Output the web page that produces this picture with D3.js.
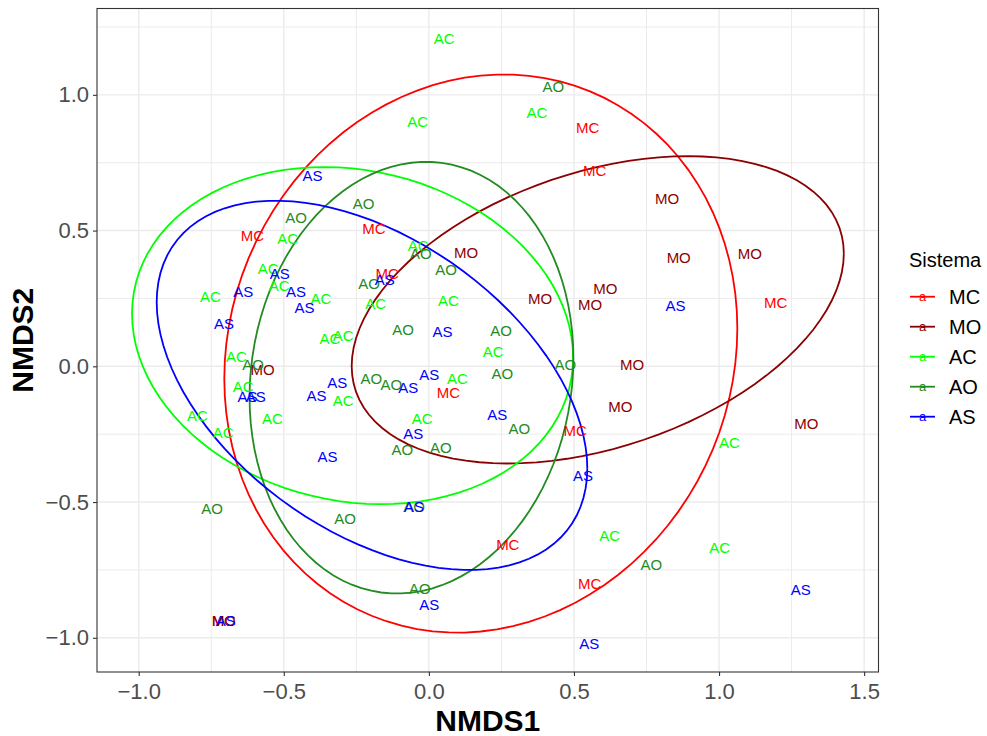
<!DOCTYPE html>
<html>
<head>
<meta charset="utf-8">
<script src="https://cdn.jsdelivr.net/npm/d3@7"></script>
<style>
  html, body { margin: 0; padding: 0; background: #fff; }
  svg { display: block; font-family: "Liberation Sans", Arial, Helvetica, sans-serif; }
</style>
</head>
<body>
<svg id="chart" width="987" height="736"></svg>
<script>
// ---------------- data ----------------
const categories = ["MC", "MO", "AC", "AO", "AS"];

const pointsMC = [
  [-0.608, 0.480], [0.547, 0.881], [0.571, 0.721], [-0.189, 0.507], [-0.144, 0.342],
  [1.195, 0.234], [0.067, -0.095], [0.504, -0.236], [0.272, -0.658], [0.554, -0.800],
  [-0.707, -0.937]
];
const pointsMO = [
  [0.821, 0.616], [0.128, 0.419], [0.383, 0.250], [0.608, 0.287], [0.556, 0.229],
  [0.861, 0.401], [1.106, 0.416], [0.700, 0.006], [0.660, -0.148], [1.301, -0.212],
  [-0.573, -0.012], [-0.707, -0.937]
];
const pointsAC = [
  [0.053, 1.207], [-0.039, 0.903], [0.372, 0.936], [-0.487, 0.472], [-0.554, 0.360],
  [-0.516, 0.299], [-0.372, 0.250], [-0.753, 0.256], [-0.341, 0.102], [-0.295, 0.112],
  [-0.663, 0.037], [-0.640, -0.076], [-0.798, -0.181], [-0.709, -0.245], [-0.539, -0.193],
  [-0.295, -0.125], [-0.037, 0.443], [-0.183, 0.231], [0.067, 0.241], [0.222, 0.056],
  [0.098, -0.046], [-0.023, -0.191], [0.623, -0.624], [1.036, -0.282], [1.002, -0.669]
];
const pointsAO = [
  [-0.458, 0.546], [-0.225, 0.601], [-0.028, 0.416], [0.059, 0.357], [-0.206, 0.305],
  [-0.606, 0.006], [-0.089, 0.137], [0.249, 0.130], [0.470, 0.006], [0.253, -0.027],
  [-0.198, -0.046], [-0.129, -0.066], [0.312, -0.228], [-0.091, -0.308], [0.041, -0.298],
  [-0.747, -0.523], [-0.289, -0.562], [-0.051, -0.517], [-0.031, -0.817], [0.767, -0.732],
  [0.429, 1.032]
];
const pointsAS = [
  [-0.401, 0.702], [-0.514, 0.342], [-0.458, 0.277], [-0.429, 0.215], [-0.640, 0.274],
  [-0.706, 0.157], [-0.625, -0.111], [-0.597, -0.111], [-0.387, -0.109], [-0.316, -0.061],
  [-0.349, -0.332], [-0.152, 0.321], [0.047, 0.127], [-0.071, -0.079], [0.001, -0.030],
  [0.236, -0.178], [-0.054, -0.249], [0.531, -0.402], [-0.051, -0.517], [0.001, -0.878],
  [0.553, -1.023], [0.850, 0.225], [1.282, -0.823], [-0.700, -0.937]
];

// ellipse parameters (data units): centre x, centre y, half-extent x, half-extent y, correlation
const ellipseCX  = [0.179, 0.582, -0.263, -0.060, -0.196];
const ellipseCY  = [0.047, 0.208,  0.113, -0.042, -0.070];
const ellipseHX  = [0.884, 0.848,  0.760,  0.558,  0.742];
const ellipseHY  = [1.028, 0.566,  0.621,  0.795,  0.680];
const ellipseRho = [0.090, 0.366, -0.130,  0.090, -0.450];

const xTicks = [-1.0, -0.5, 0.0, 0.5, 1.0, 1.5];
const yTicks = [-1.0, -0.5, 0.0, 0.5, 1.0];
const xMinor = [-0.75, -0.25, 0.25, 0.75, 1.25];
const yMinor = [-0.75, -0.25, 0.25, 0.75, 1.25];

const xTitle = "NMDS1";
const yTitle = "NMDS2";
const legendTitle = "Sistema";

// ---------------- styles ----------------
const colorOf = {
  MC: "#FF0000", MO: "#8B0000", AC: "#00FF00", AO: "#228B22", AS: "#0000FF"
};
const pointsByCat = { MC: pointsMC, MO: pointsMO, AC: pointsAC, AO: pointsAO, AS: pointsAS };

// ---------------- layout ----------------
const panel = { left: 97, right: 878.5, top: 8.5, bottom: 672 };
const x = d3.scaleLinear().domain([-1.1437, 1.5495]).range([panel.left, panel.right]);
const y = d3.scaleLinear().domain([-1.126, 1.318]).range([panel.bottom, panel.top]);

const svg = d3.select("#chart");
svg.append("rect").attr("width", 987).attr("height", 736).attr("fill", "#fff");

const g = svg.append("g");

// grid
g.selectAll(".gminx").data(xMinor).enter().append("line")
  .attr("x1", d => x(d)).attr("x2", d => x(d))
  .attr("y1", panel.top).attr("y2", panel.bottom)
  .attr("stroke", "#EBEBEB").attr("stroke-width", 1);
g.selectAll(".gminy").data(yMinor).enter().append("line")
  .attr("y1", d => y(d)).attr("y2", d => y(d))
  .attr("x1", panel.left).attr("x2", panel.right)
  .attr("stroke", "#EBEBEB").attr("stroke-width", 1);
g.selectAll(".gmajx").data(xTicks).enter().append("line")
  .attr("x1", d => x(d)).attr("x2", d => x(d))
  .attr("y1", panel.top).attr("y2", panel.bottom)
  .attr("stroke", "#EBEBEB").attr("stroke-width", 1.4);
g.selectAll(".gmajy").data(yTicks).enter().append("line")
  .attr("y1", d => y(d)).attr("y2", d => y(d))
  .attr("x1", panel.left).attr("x2", panel.right)
  .attr("stroke", "#EBEBEB").attr("stroke-width", 1.4);

// ellipses
const line = d3.line().x(d => x(d[0])).y(d => y(d[1]));
categories.forEach((c, i) => {
  const cx = ellipseCX[i], cy = ellipseCY[i], hx = ellipseHX[i], hy = ellipseHY[i], r = ellipseRho[i];
  const pts = d3.range(0, 101).map(k => {
    const t = (k / 100) * 2 * Math.PI;
    return [cx + hx * Math.cos(t), cy + hy * (r * Math.cos(t) + Math.sqrt(1 - r * r) * Math.sin(t))];
  });
  g.append("path").datum(pts).attr("d", line)
    .attr("fill", "none").attr("stroke", colorOf[c]).attr("stroke-width", 1.8);
});

// labels
categories.forEach(c => {
  g.selectAll(null).data(pointsByCat[c]).enter().append("text")
    .attr("x", d => x(d[0])).attr("y", d => y(d[1]))
    .attr("dy", "0.36em")
    .attr("text-anchor", "middle")
    .attr("font-size", 15)
    .attr("fill", colorOf[c])
    .text(c);
});

// panel border
g.append("rect")
  .attr("x", panel.left).attr("y", panel.top)
  .attr("width", panel.right - panel.left).attr("height", panel.bottom - panel.top)
  .attr("fill", "none").attr("stroke", "#333333").attr("stroke-width", 1.1);

// axes
const fmt = d3.format(".1f");
const xAxis = d3.axisBottom(x).tickValues(xTicks).tickFormat(fmt).tickSize(4).tickPadding(4);
const yAxis = d3.axisLeft(y).tickValues(yTicks).tickFormat(fmt).tickSize(4).tickPadding(4);

const gx = svg.append("g").attr("transform", `translate(0,${panel.bottom})`).call(xAxis);
const gy = svg.append("g").attr("transform", `translate(${panel.left},0)`).call(yAxis);
[gx, gy].forEach(a => {
  a.select(".domain").remove();
  a.selectAll(".tick line").attr("stroke", "#333333").attr("stroke-width", 1.1);
  a.selectAll(".tick text").attr("fill", "#4D4D4D").attr("font-size", 22)
    .attr("font-family", "'Liberation Sans', Arial, sans-serif");
});
gx.selectAll(".tick text").attr("dy", "0.71em").attr("y", 11.5);

// axis titles
svg.append("text")
  .attr("x", (panel.left + panel.right) / 2).attr("y", 731)
  .attr("text-anchor", "middle").attr("font-size", 30).attr("font-weight", "bold")
  .attr("fill", "#000").text(xTitle);
svg.append("text")
  .attr("transform", `translate(33,${(panel.top + panel.bottom) / 2}) rotate(-90)`)
  .attr("text-anchor", "middle").attr("font-size", 30).attr("font-weight", "bold")
  .attr("fill", "#000").text(yTitle);

// legend
const lg = svg.append("g");
lg.append("text").attr("x", 909).attr("y", 267).attr("font-size", 20).attr("fill", "#000").text(legendTitle);
const legendY = d3.scalePoint().domain(categories).range([296.7, 416.7]);
categories.forEach(c => {
  const yy = legendY(c);
  lg.append("line").attr("x1", 910).attr("x2", 935).attr("y1", yy).attr("y2", yy)
    .attr("stroke", colorOf[c]).attr("stroke-width", 1.8);
  lg.append("text").attr("x", 922.5).attr("y", yy).attr("dy", "0.32em")
    .attr("text-anchor", "middle").attr("font-size", 13).attr("fill", colorOf[c]).text("a");
  lg.append("text").attr("x", 949).attr("y", yy).attr("dy", "0.36em")
    .attr("font-size", 20).attr("fill", "#000").text(c);
});
</script>
</body>
</html>
